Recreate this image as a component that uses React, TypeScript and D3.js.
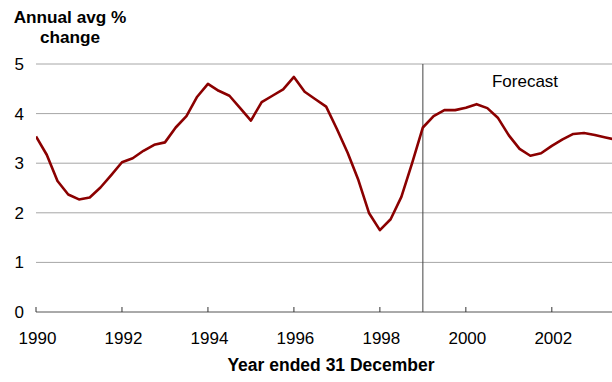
import React from "react";
import * as d3 from "d3";

// Quarterly observations, year ended 31 December, starting 1990 Q1
const startYear = 1990;
const growth = [
  3.54, 3.17, 2.64, 2.37,
  2.27, 2.31, 2.51, 2.76,
  3.02, 3.1, 3.25, 3.37,
  3.42, 3.72, 3.95, 4.34,
  4.6, 4.46, 4.36, 4.11,
  3.86, 4.23, 4.36, 4.49,
  4.74, 4.44, 4.29, 4.14,
  3.69, 3.21, 2.66, 1.99,
  1.65, 1.87, 2.32, 3.0,
  3.72, 3.95, 4.07, 4.07,
  4.12, 4.19, 4.11, 3.91,
  3.56, 3.29, 3.15, 3.2,
  3.35, 3.48, 3.59, 3.61,
  3.57, 3.52, 3.47,
];
const xTicks = [1990, 1992, 1994, 1996, 1998, 2000, 2002];
const yTicks = [0, 1, 2, 3, 4, 5];
const forecastStart = 1999;

const W = 612;
const H = 382;
const left = 36;
const right = 612;
const top = 64;
const bottom = 312;

export default function App() {
  const x = d3.scaleLinear().domain([1990, 2003.4]).range([left, right]);
  const y = d3.scaleLinear().domain([0, 5]).range([bottom, top]);
  const pts = growth.map((v, i) => [startYear + i / 4, v] as [number, number]);
  const line = d3
    .line<[number, number]>()
    .x((d) => x(d[0]))
    .y((d) => y(d[1]));
  const font = "Liberation Sans, Arial, sans-serif";

  return (
    <svg
      width={W}
      height={H}
      style={{ position: "absolute", left: 0, top: 0, background: "#fff" }}
      fontFamily={font}
    >
      <defs>
        <clipPath id="plot">
          <rect x={left} y={0} width={right - left} height={bottom + 2} />
        </clipPath>
      </defs>
      <text x={70} y={23} textAnchor="middle" fontSize={17.2} fontWeight="bold">
        Annual avg %
      </text>
      <text x={70} y={43} textAnchor="middle" fontSize={17.2} fontWeight="bold">
        change
      </text>
      {yTicks
        .filter((t) => t > 0)
        .map((t) => (
          <line key={t} x1={left} x2={right} y1={y(t)} y2={y(t)} stroke="#a6a6a6" strokeWidth={1} />
        ))}
      {yTicks.map((t) => (
        <text key={t} x={24} y={y(t)} dy="0.35em" textAnchor="end" fontSize={17}>
          {t}
        </text>
      ))}
      <line x1={left} x2={right} y1={bottom} y2={bottom} stroke="#555" strokeWidth={1} />
      {xTicks.map((t) => (
        <g key={t}>
          <line x1={x(t)} x2={x(t)} y1={bottom - 5} y2={bottom} stroke="#333" strokeWidth={1} />
          <text x={x(t) + 1.5} y={343.5} textAnchor="middle" fontSize={17}>
            {t}
          </text>
        </g>
      ))}
      <line
        x1={x(forecastStart)}
        x2={x(forecastStart)}
        y1={top}
        y2={bottom}
        stroke="#444"
        strokeWidth={1}
      />
      <text x={525} y={87} textAnchor="middle" fontSize={17}>
        Forecast
      </text>
      <path
        d={line(pts) ?? ""}
        fill="none"
        stroke="#8b0000"
        strokeWidth={2.6}
        strokeLinejoin="round"
        clipPath="url(#plot)"
      />
      <text x={331} y={370.5} textAnchor="middle" fontSize={17.5} fontWeight="bold">
        Year ended 31 December
      </text>
    </svg>
  );
}
